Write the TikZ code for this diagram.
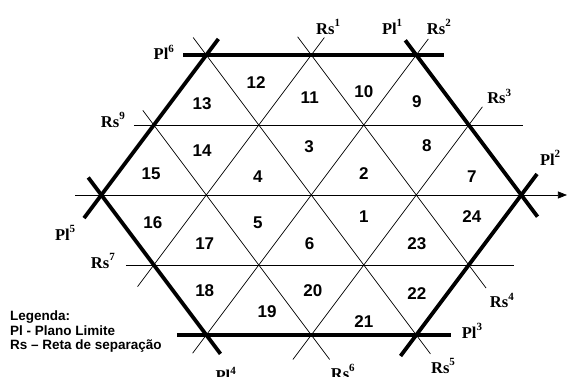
\documentclass[tikz,border=0pt]{standalone}
\usepackage{fontspec}
\setmainfont{Liberation Serif}
\newfontfamily\arialfont{Liberation Sans}
\usetikzlibrary{arrows.meta}

\newcommand{\tagsup}[1]{\raisebox{7.5pt}{\fontsize{11}{11}\selectfont #1}}

\begin{document}
\begin{tikzpicture}[
    x=52.5pt, y=70pt,
    sepline/.style={draw=black, line width=0.7pt},
    limitline/.style={draw=black, line width=3.8pt},
    axisline/.style={draw=black, line width=0.7pt, -{Triangle[length=9pt,width=7pt]}},
    region/.style={font=\arialfont\bfseries\fontsize{17}{19}\selectfont, inner sep=0pt},
    tag/.style={font=\bfseries\fontsize{16.5}{18}\selectfont, inner sep=0pt},
    legend/.style={font=\arialfont\bfseries\fontsize{13.5}{14.5}\selectfont, align=left, inner sep=0pt}
]
\useasboundingbox (-5.930,-2.6) rectangle (4.890,2.786);

% Separation lines: horizontal
\draw[sepline] (-3.38,1) -- (4.03,1);
\draw[sepline] (-3.53,-1) -- (3.86,-1);

% Separation lines: diagonal
\draw[sepline] (-2.26,-2.26) -- (2.23,2.23);
\draw[sepline] (-3.31,-1.31) -- (0.25,2.25);
\draw[sepline] (-0.35,-2.35) -- (3.26,1.26);
\draw[sepline] (-2.25,2.25) -- (2.27,-2.27);
\draw[sepline] (-0.26,2.26) -- (3.33,-1.33);
\draw[sepline] (-3.21,1.21) -- (0.35,-2.35);

% Limit planes (hexagon)
\draw[limitline] (-2.44,2) -- (2.52,2);
\draw[limitline] (-2.56,-2) -- (2.67,-2);
\draw[limitline] (-4.33,-0.33) -- (-1.77,2.23);
\draw[limitline] (-4.25,0.25) -- (-1.73,-2.27);
\draw[limitline] (1.79,2.21) -- (4.31,-0.31);
\draw[limitline] (1.70,-2.30) -- (4.30,0.30);

% Axis
\draw[axisline] (-4.50,0) -- (4.87,0);

% Regions
\foreach \n/\x/\y in {1/1.00/-0.31, 2/1.00/0.31, 3/-0.04/0.69, 4/-1.02/0.26,
    5/-1.02/-0.40, 6/-0.03/-0.69, 7/3.06/0.26, 8/2.20/0.71, 9/2.01/1.33,
    10/1.00/1.47, 11/-0.03/1.39, 12/-1.05/1.61, 13/-2.08/1.31, 14/-2.08/0.64,
    15/-3.05/0.31, 16/-3.02/-0.40, 17/-2.03/-0.69, 18/-2.03/-1.36,
    19/-0.84/-1.67, 20/0.03/-1.36, 21/1.00/-1.81, 22/2.01/-1.41,
    23/2.01/-0.69, 24/3.06/-0.31}
  \node[region] (r\n) at (\x,\y) {\n};

% Limit plane labels
\node[tag] (pl1) at (1.54,2.40) {Pl\tagsup{1}};
\node[tag] (pl2) at (4.55,0.53) {Pl\tagsup{2}};
\node[tag] (pl3) at (3.06,-1.94) {Pl\tagsup{3}};
\node[tag] (pl4) at (-1.63,-2.56) {Pl\tagsup{4}};
\node[tag] (pl5) at (-4.69,-0.54) {Pl\tagsup{5}};
\node[tag] (pl6) at (-2.81,2.04) {Pl\tagsup{6}};

% Separation line labels
\node[tag] (rs1) at (0.32,2.40) {Rs\tagsup{1}};
\node[tag] (rs2) at (2.43,2.40) {Rs\tagsup{2}};
\node[tag] (rs3) at (3.58,1.41) {Rs\tagsup{3}};
\node[tag] (rs4) at (3.63,-1.51) {Rs\tagsup{4}};
\node[tag] (rs5) at (2.51,-2.44) {Rs\tagsup{5}};
\node[tag] (rs6) at (0.60,-2.53) {Rs\tagsup{6}};
\node[tag] (rs7) at (-3.97,-0.94) {Rs\tagsup{7}};
\node[tag] (rs9) at (-3.78,1.07) {Rs\tagsup{9}};

% Legend
\node[legend, anchor=north west] (legend) at (-5.74,-1.655)
  {Legenda:\\Pl - Plano Limite\\Rs – Reta de separação};

\end{tikzpicture}
\end{document}
